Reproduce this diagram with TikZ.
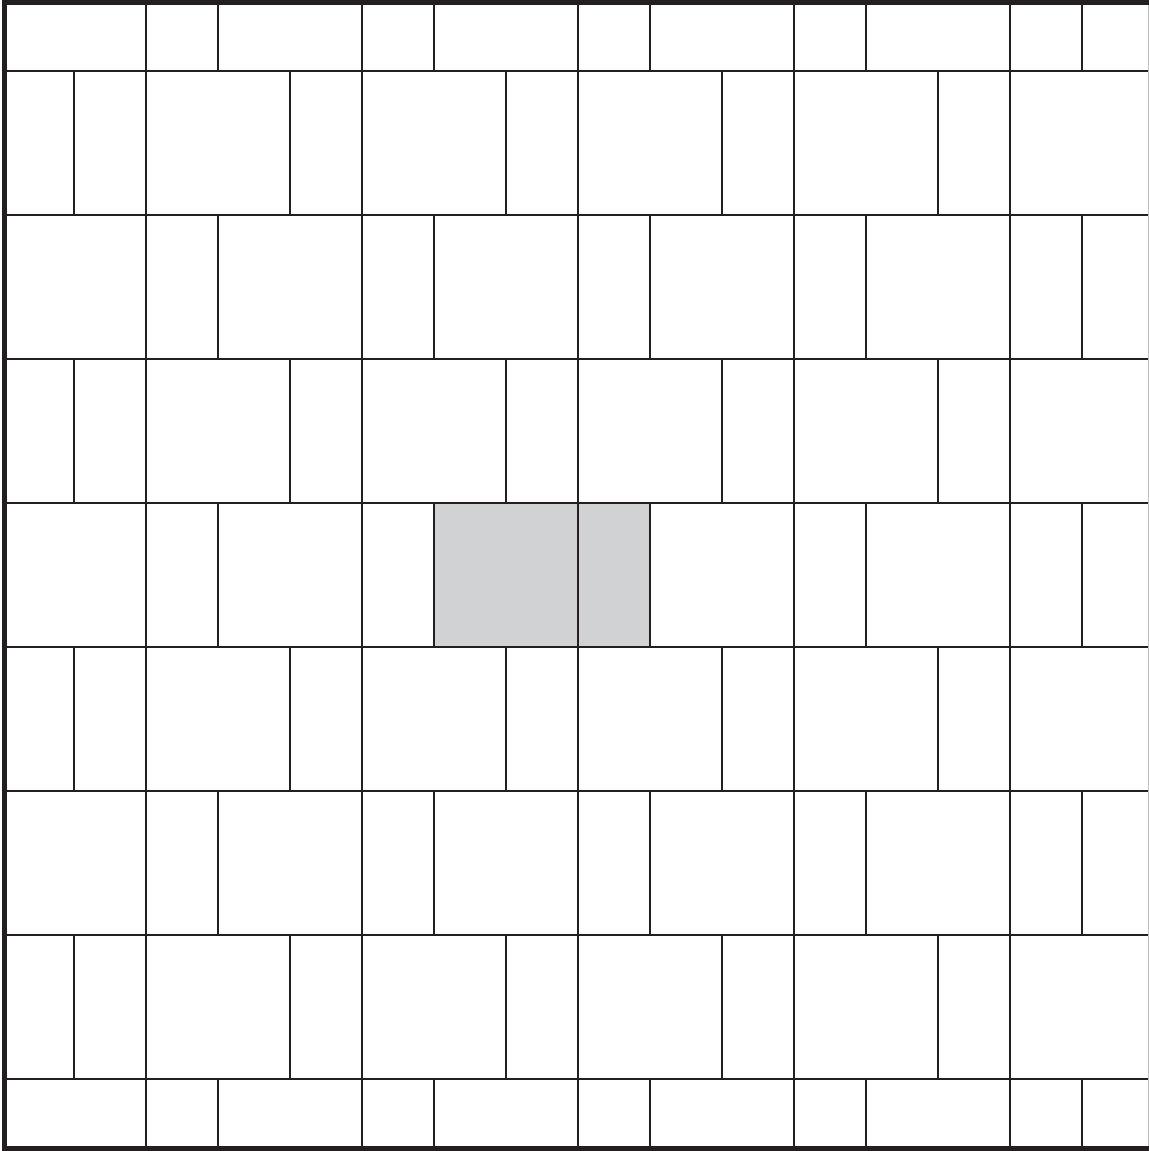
\documentclass[tikz,border=0pt]{standalone}
\definecolor{ink}{HTML}{231F20}
\definecolor{tile}{HTML}{D1D2D4}
\tikzset{
  joint/.style={draw=ink, line width=0.7pt},
  frame/.style={draw=ink, line width=2.6pt},
}
\begin{document}
\begin{tikzpicture}[x=0.5pt,y=-0.5pt]
\useasboundingbox (0,0) rectangle (1149,1151);
\fill[white] (0,0) rectangle (1149,1151);
% highlighted tile
\fill[tile] (434,503) rectangle (650,647);
% horizontal joints
\foreach \y in {71,215,359,503,647,791,935,1079}
  \draw[joint] (4,\y) -- (1149,\y);
% even rows
\foreach \ya/\yb in {5/71,215/359,503/647,791/935,1079/1147}
  \foreach \k in {0,...,4}
    \draw[joint] (146+216*\k,\ya) -- (146+216*\k,\yb)
                 (218+216*\k,\ya) -- (218+216*\k,\yb);
% odd rows
\foreach \ya/\yb in {71/215,359/503,647/791,935/1079}
  \foreach \k in {0,...,4}
    \draw[joint] (74+216*\k,\ya) -- (74+216*\k,\yb)
                 (146+216*\k,\ya) -- (146+216*\k,\yb);
% frame
\draw[draw=black!25, line width=0.4pt] (1148.5,0) -- (1148.5,1151);
\draw[frame] (1149,2.5) -- (4.5,2.5) -- (4.5,1148.5) -- (1149,1148.5);
\end{tikzpicture}
\end{document}
